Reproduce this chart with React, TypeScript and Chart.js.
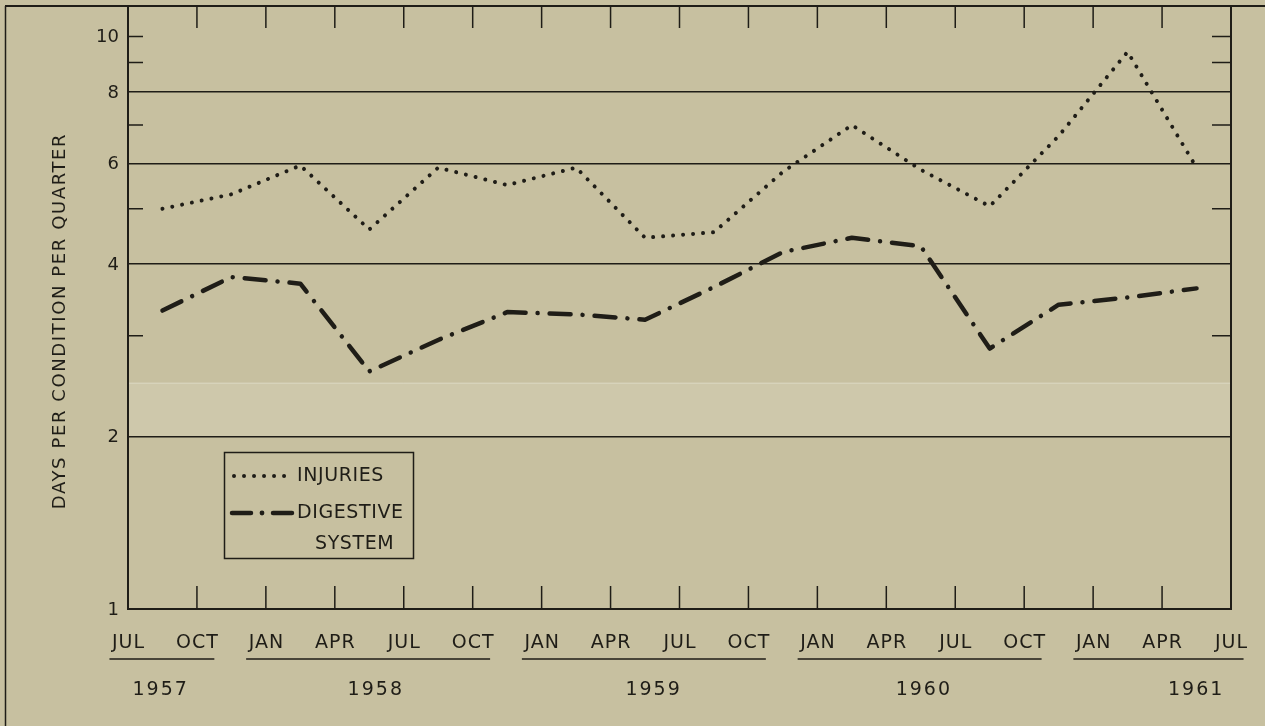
import React, { useEffect, useRef } from 'react';
import { Chart, registerables } from 'chart.js';

Chart.register(...registerables);

// ---- data ----
const quarterLabels = ['JUL', 'OCT', 'JAN', 'APR', 'JUL', 'OCT', 'JAN', 'APR', 'JUL', 'OCT', 'JAN', 'APR', 'JUL', 'OCT', 'JAN', 'APR', 'JUL'];
const yearLabels = ['1957', '1958', '1959', '1960', '1961'];
const yearFirstTick = [0, 2, 6, 10, 14];
const yearLastTick = [1, 5, 9, 13, 16];
const injuries = [5.0, 5.3, 5.95, 4.6, 5.9, 5.5, 5.9, 4.45, 4.55, 5.8, 7.0, 5.85, 5.05, 6.7, 9.4, 5.9];
const digestive = [3.32, 3.8, 3.7, 2.6, 2.95, 3.3, 3.27, 3.2, 3.65, 4.2, 4.45, 4.3, 2.85, 3.4, 3.5, 3.63];
const yTickLabels = [1, 2, 4, 6, 8, 10];
const gridValues = [2, 4, 6, 8];
const minorTickValues = [3, 5, 7, 9, 10];
const yTitle = 'DAYS PER CONDITION PER QUARTER';
const legendInjuries = 'INJURIES';
const legendDigestive = ['DIGESTIVE', 'SYSTEM'];

// ---- layout / style constants ----
const INK = '#1f1d17';
const BG = '#c7c0a0';
const FONT = '"DejaVu Sans", "Liberation Sans", sans-serif';
const yearLabelCenters = [0.46, 3.58, 7.61, 11.53, 15.48];
const DOT_DASH = [0.01, 10];
const DASH_DOT = [21, 12, 0.01, 12];

const decorPlugin = {
  id: 'decor',
  beforeDraw(chart: any) {
    const { ctx, width, height, chartArea: ca, scales } = chart;
    const ys = scales.y;
    ctx.save();
    ctx.fillStyle = BG;
    ctx.fillRect(0, 0, width, height);
    // faint lighter band from the scan
    const bTop = ys.getPixelForValue(2.48);
    const bBot = ys.getPixelForValue(2.0);
    ctx.fillStyle = 'rgba(255,255,250,0.13)';
    ctx.fillRect(ca.left, bTop, ca.right - ca.left, bBot - bTop);
    ctx.strokeStyle = 'rgba(255,255,255,0.35)';
    ctx.lineWidth = 1;
    ctx.beginPath();
    ctx.moveTo(ca.left, bTop);
    ctx.lineTo(ca.right, bTop);
    ctx.stroke();
    ctx.restore();
  },
  afterDraw(chart: any) {
    const { ctx, width, height, chartArea: ca, scales } = chart;
    const xs = scales.x;
    const ys = scales.y;
    ctx.save();
    ctx.strokeStyle = INK;
    ctx.fillStyle = INK;
    ctx.lineCap = 'butt';

    // outer frame
    ctx.lineWidth = 1.5;
    ctx.beginPath();
    ctx.moveTo(5.5, ca.top);
    ctx.lineTo(5.5, height);
    ctx.stroke();
    ctx.lineWidth = 2;
    ctx.beginPath();
    ctx.moveTo(5, ca.top);
    ctx.lineTo(width, ca.top);
    ctx.stroke();
    // right border of plot
    ctx.beginPath();
    ctx.moveTo(ca.right, ca.top);
    ctx.lineTo(ca.right, ca.bottom);
    ctx.stroke();

    // quarter tick marks on top and bottom
    ctx.lineWidth = 1.5;
    for (let i = 1; i < quarterLabels.length - 1; i++) {
      const x = xs.getPixelForValue(i);
      ctx.beginPath();
      ctx.moveTo(x, ca.top);
      ctx.lineTo(x, ca.top + 22);
      ctx.moveTo(x, ca.bottom);
      ctx.lineTo(x, ca.bottom - 23);
      ctx.stroke();
    }
    // minor y ticks left and right
    minorTickValues.forEach((v) => {
      const y = ys.getPixelForValue(v);
      ctx.beginPath();
      ctx.moveTo(ca.left, y);
      ctx.lineTo(ca.left + 15, y);
      ctx.moveTo(ca.right - 19, y);
      ctx.lineTo(ca.right, y);
      ctx.stroke();
    });

    // y tick labels
    ctx.font = `18px ${FONT}`;
    ctx.textAlign = 'right';
    ctx.textBaseline = 'middle';
    (ctx as any).letterSpacing = '0px';
    yTickLabels.forEach((v) => {
      const y = ys.getPixelForValue(v);
      ctx.fillText(String(v), ca.left - 9, y + 1);
    });

    // y title
    ctx.save();
    ctx.translate(60, 321);
    ctx.rotate(-Math.PI / 2);
    ctx.font = `18px ${FONT}`;
    (ctx as any).letterSpacing = '1.6px';
    ctx.textAlign = 'center';
    ctx.textBaseline = 'middle';
    ctx.fillText(yTitle, 0, 0);
    ctx.restore();

    // month labels
    ctx.font = `19px ${FONT}`;
    (ctx as any).letterSpacing = '1px';
    ctx.textAlign = 'center';
    ctx.textBaseline = 'middle';
    const widths: number[] = [];
    quarterLabels.forEach((lab, i) => {
      const x = xs.getPixelForValue(i);
      ctx.fillText(lab, x + 0.5, 643);
      widths.push(ctx.measureText(lab).width);
    });

    // year underlines and labels
    ctx.lineWidth = 1.6;
    yearLabels.forEach((yr, k) => {
      const a = xs.getPixelForValue(yearFirstTick[k]) - widths[yearFirstTick[k]] / 2 - 2;
      const b = xs.getPixelForValue(yearLastTick[k]) + widths[yearLastTick[k]] / 2 - 4;
      ctx.beginPath();
      ctx.moveTo(a, 659);
      ctx.lineTo(b, 659);
      ctx.stroke();
      ctx.font = `19px ${FONT}`;
      (ctx as any).letterSpacing = '2px';
      ctx.fillText(yr, xs.getPixelForValue(yearLabelCenters[k]) + 1, 690);
    });

    // legend box
    ctx.lineWidth = 1.5;
    ctx.strokeRect(224.5, 452.5, 189, 106);
    ctx.lineCap = 'round';
    ctx.lineWidth = 4;
    ctx.setLineDash(DOT_DASH);
    ctx.beginPath();
    ctx.moveTo(234, 476);
    ctx.lineTo(288, 476);
    ctx.stroke();
    ctx.setLineDash([]);
    ctx.lineWidth = 4.5;
    ctx.beginPath();
    ctx.moveTo(232, 513);
    ctx.lineTo(251, 513);
    ctx.moveTo(273, 513);
    ctx.lineTo(292, 513);
    ctx.stroke();
    ctx.beginPath();
    ctx.arc(262, 513, 2.4, 0, Math.PI * 2);
    ctx.fill();

    ctx.font = `19px ${FONT}`;
    (ctx as any).letterSpacing = '0.6px';
    ctx.textAlign = 'left';
    ctx.textBaseline = 'middle';
    ctx.fillText(legendInjuries, 297, 476);
    ctx.fillText(legendDigestive[0], 297, 513);
    ctx.fillText(legendDigestive[1], 315, 544);

    ctx.restore();
  },
};

export default function App() {
  const ref = useRef<HTMLCanvasElement | null>(null);

  useEffect(() => {
    if (!ref.current) return;
    const toPoints = (arr: number[]) => arr.map((v, i) => ({ x: i + 0.5, y: v }));
    const chart = new Chart(ref.current, {
      type: 'line',
      data: {
        datasets: [
          {
            label: 'INJURIES',
            data: toPoints(injuries),
            borderColor: INK,
            borderWidth: 4,
            borderDash: DOT_DASH,
            borderCapStyle: 'round',
            borderJoinStyle: 'round',
            pointRadius: 0,
            tension: 0,
            fill: false,
          },
          {
            label: 'DIGESTIVE SYSTEM',
            data: toPoints(digestive),
            borderColor: INK,
            borderWidth: 4.5,
            borderDash: DASH_DOT,
            borderCapStyle: 'round',
            borderJoinStyle: 'round',
            pointRadius: 0,
            tension: 0,
            fill: false,
          },
        ],
      },
      options: {
        responsive: false,
        animation: false,
        events: [],
        layout: { padding: { left: 128, right: 34, top: 6, bottom: 117 } },
        plugins: {
          legend: { display: false },
          tooltip: { enabled: false },
        },
        scales: {
          x: {
            type: 'linear',
            min: 0,
            max: 16,
            ticks: { display: false },
            grid: { display: false, drawTicks: false },
            border: { display: true, color: INK, width: 2 },
          },
          y: {
            type: 'logarithmic',
            min: 1,
            max: 11.3,
            ticks: { display: false },
            afterBuildTicks: (s: any) => {
              s.ticks = [1, 2, 3, 4, 5, 6, 7, 8, 9, 10].map((v) => ({ value: v }));
            },
            grid: {
              drawTicks: false,
              lineWidth: 1.6,
              color: (c: any) => (c.tick && gridValues.includes(c.tick.value) ? INK : 'rgba(0,0,0,0)'),
            },
            border: { display: true, color: INK, width: 2 },
          },
        },
      } as any,
      plugins: [decorPlugin],
    });
    return () => chart.destroy();
  }, []);

  return (
    <div style={{ position: 'absolute', left: 0, top: 0, width: 1265, height: 726 }}>
      <canvas ref={ref} width={1265} height={726} style={{ display: 'block', width: 1265, height: 726 }} />
    </div>
  );
}
